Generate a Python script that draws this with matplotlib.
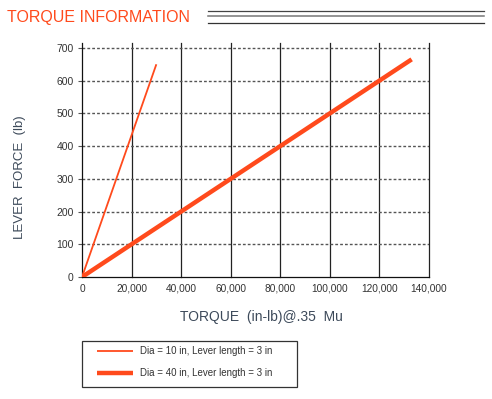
import matplotlib
matplotlib.use("Agg")
from matplotlib import pyplot as plt
from matplotlib.lines import Line2D
from matplotlib.patches import Rectangle

plt.rcParams['font.family'] = ['Liberation Sans', 'DejaVu Sans']

# data
torque_small = [0, 30000]
force_small = [0, 650]
torque_large = [0, 133000]
force_large = [0, 665]
label_small = 'Dia = 10 in, Lever length = 3 in'
label_large = 'Dia = 40 in, Lever length = 3 in'
xticks = [0, 20000, 40000, 60000, 80000, 100000, 120000, 140000]
yticks = [0, 100, 200, 300, 400, 500, 600, 700]

orange = '#ff4a1c'
W, H = 492, 399

fig = plt.figure(figsize=(W / 100, H / 100), dpi=100)
ax = fig.add_axes([82 / W, 1 - 277 / H, (429 - 82) / W, (277 - 43) / H])

ax.set_xlim(0, 140000)
ax.set_ylim(0, 715)

# grid: solid verticals, dashed horizontals
for x in xticks[1:]:
    ax.axvline(x, color='#222222', lw=0.9, zorder=1, clip_on=False)
for y in yticks[1:]:
    ax.axhline(y, color='#555555', lw=1.0, ls=(0, (2, 1.5)), zorder=1)

ax.plot(torque_small, force_small, color=orange, lw=1.3, label=label_small, zorder=3,
        solid_capstyle='butt')
ax.plot(torque_large, force_large, color=orange, lw=3.2, label=label_large, zorder=3,
        solid_capstyle='butt')

ax.set_xticks(xticks)
ax.set_xticklabels(['{:,}'.format(v) for v in xticks])
ax.set_yticks(yticks)
ax.tick_params(axis='x', length=0, pad=5, labelsize=7.3, labelcolor='#333333')
ax.tick_params(axis='y', length=3, width=0.8, color='#555555', pad=3, labelsize=7.5,
               labelcolor='#333333')

for s in ['top', 'right']:
    ax.spines[s].set_visible(False)
ax.spines['left'].set_color('#111111')
ax.spines['bottom'].set_color('#111111')
ax.spines['left'].set_linewidth(0.9)
ax.spines['bottom'].set_linewidth(0.9)

ax.set_xlabel('TORQUE  (in-lb)@.35  Mu', fontsize=10, color='#3d4a5a')
ax.xaxis.set_label_coords(0.516, -33 / 234, transform=ax.transAxes)
fig.text(20 / W, 1 - 177 / H, 'LEVER  FORCE  (lb)', rotation=90, fontsize=9.5,
         color='#3d4a5a', ha='center', va='center')

# title and rule lines
fig.text(7 / W, 1 - 17.5 / H, 'TORQUE INFORMATION', fontsize=11.5, color=orange,
         ha='left', va='center')
for yy, c, lw in [(11, '#444444', 0.9), (16.3, '#777777', 1.1), (22.7, '#333333', 0.9)]:
    fig.add_artist(Line2D([208 / W, 484 / W], [1 - yy / H, 1 - yy / H], color=c, lw=lw))

# legend box drawn separately, entries placed inside it
fig.add_artist(Rectangle((82 / W, 1 - 387 / H), (297 - 82) / W, (387 - 341) / H,
                         transform=fig.transFigure, fill=False, edgecolor='#333333', lw=0.9))
leg = fig.legend(loc='upper left', bbox_to_anchor=(97 / W, 1 - 346.5 / H),
                 fontsize=7, frameon=False, handlelength=3.7, handletextpad=0.72,
                 labelspacing=1.2, borderpad=0, borderaxespad=0)
for t in leg.get_texts():
    t.set_color('#333333')

plt.savefig('out.png', dpi=100)
